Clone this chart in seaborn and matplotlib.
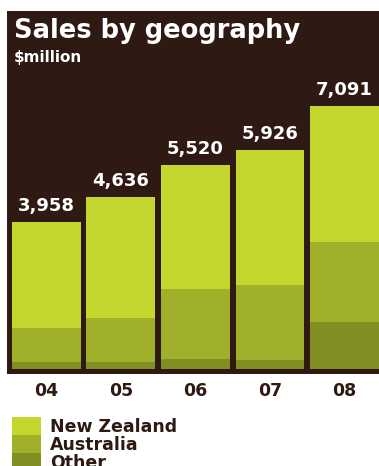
import matplotlib
matplotlib.use("Agg")
import matplotlib.pyplot as plt
from matplotlib.patches import Rectangle
import pandas as pd
import seaborn as sns

# Sales by geography, $ million
years = ["04", "05", "06", "07", "08"]
new_zealand = [2851, 3268, 3360, 3658, 3662]
australia = [918, 1188, 1890, 2025, 2160]
other = [189, 180, 270, 243, 1269]
regions = ["New Zealand", "Australia", "Other"]

BG = "#2e1a13"
INK = "#2e1a13"
COLORS = {"New Zealand": "#c3d72f", "Australia": "#a1b02a", "Other": "#808e22"}

sns.set_theme(style="white")
plt.rcParams["font.family"] = ["DejaVu Sans"]

df = pd.DataFrame({"year": years, "New Zealand": new_zealand,
                   "Australia": australia, "Other": other})
df["total"] = df["New Zealand"] + df["Australia"] + df["Other"]
df["aus_other"] = df["Australia"] + df["Other"]

W, H = 379, 466
fig = plt.figure(figsize=(W / 100, H / 100), dpi=100)
fig.patch.set_facecolor("white")

# dark panel behind the chart
fig.patches.append(Rectangle((7 / W, 1 - 374 / H), 1 - 7 / W, (374 - 11) / H,
                             transform=fig.transFigure, facecolor=BG,
                             edgecolor="none", zorder=-5))

ax = fig.add_axes([7 / W, 1 - 369 / H, 372 / W, 300 / H])
ax.set_facecolor("none")
ax.set_zorder(2)

# stacked bars: draw the totals first, then the lower segments over them
bar_kw = dict(width=0.926, saturation=1, linewidth=0, ax=ax)
sns.barplot(data=df, x="year", y="total", color=COLORS["New Zealand"], **bar_kw)
sns.barplot(data=df, x="year", y="aus_other", color=COLORS["Australia"], **bar_kw)
sns.barplot(data=df, x="year", y="Other", color=COLORS["Other"], **bar_kw)

ax.set_xlim(-0.530, 4.463)
ax.set_ylim(0, 300 * 27.0)
for s in ax.spines.values():
    s.set_visible(False)
ax.set_yticks([])
ax.set_xlabel("")
ax.set_ylabel("")
ax.tick_params(axis="x", length=0, pad=9)
ax.set_xticks(range(len(years)))
ax.set_xticklabels(years, fontsize=12.5, fontweight="bold", color=INK)

# total labels above each bar
for i, t in enumerate(df["total"]):
    ax.annotate(f"{t:,}", (i, t), xytext=(0, 5), textcoords="offset points",
                ha="center", va="bottom", fontsize=13, fontweight="bold",
                color="white", annotation_clip=False)

fig.text(14 / W, 1 - 38 / H, "Sales by geography", fontsize=18.5,
         fontweight="bold", color="white", va="baseline", ha="left", zorder=3)
fig.text(14 / W, 1 - 62 / H, "$million", fontsize=11,
         fontweight="bold", color="white", va="baseline", ha="left", zorder=3)

# legend swatches
sw_top = 417
sw_h = 18
for k, name in enumerate(regions):
    y0 = sw_top + k * sw_h
    fig.patches.append(Rectangle((12 / W, 1 - (y0 + sw_h) / H), 29 / W, sw_h / H,
                                 transform=fig.transFigure,
                                 facecolor=COLORS[name], edgecolor="none"))
    fig.text(50 / W, 1 - (y0 + 10) / H, name, fontsize=12.5,
             fontweight="bold", color=INK, va="center", ha="left")

fig.savefig("out.png", dpi=100)
